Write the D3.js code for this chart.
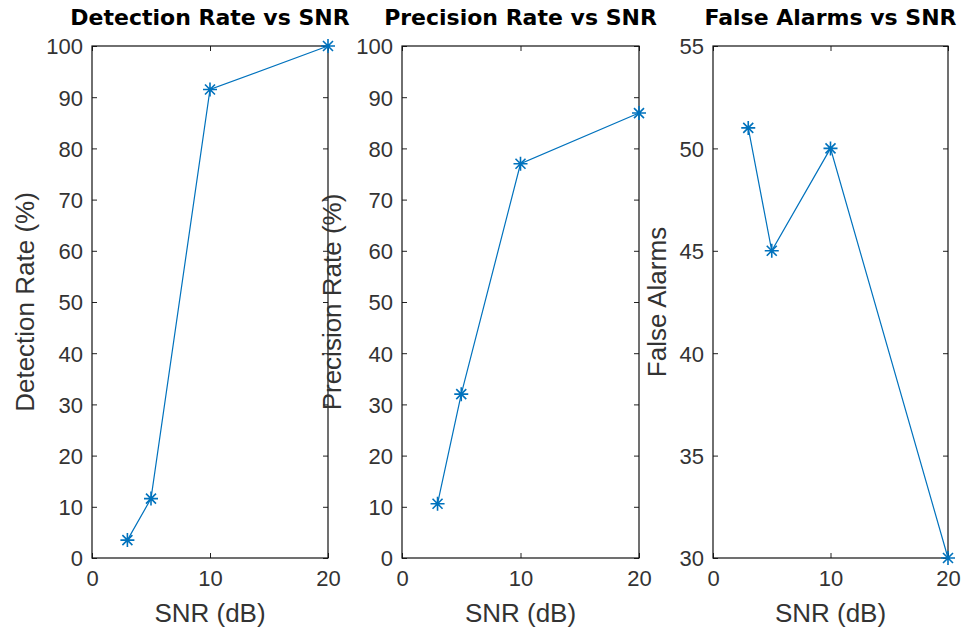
<!DOCTYPE html>
<html>
<head>
<meta charset="utf-8">
<script src="https://cdn.jsdelivr.net/npm/d3@7"></script>
<style>
  html, body { margin: 0; padding: 0; background: #fff; }
  svg { display: block; }
  .tick text { font-family: Arial, "Liberation Sans", sans-serif; font-size: 22px; fill: #333; }
  .tick line { stroke: #222; }
  .domain { stroke: none; }
</style>
</head>
<body>
<svg id="chart" width="964" height="634"></svg>
<script>
// SNR levels (dB) shared by all three panels
const snr = [3, 5, 10, 20];

// Measured series
const detectionRate = [3.5, 11.6, 91.5, 100];
const precisionRate = [10.6, 32, 77, 86.9];
const falseAlarms = [51, 45, 50, 30];

// Axis ticks
const xTicks = [0, 10, 20];
const pctTicks = [0, 10, 20, 30, 40, 50, 60, 70, 80, 90, 100];
const faTicks = [30, 35, 40, 45, 50, 55];

const titles = ["Detection Rate vs SNR", "Precision Rate vs SNR", "False Alarms vs SNR"];
const yLabels = ["Detection Rate (%)", "Precision Rate (%)", "False Alarms"];

const panels = [
  { left: 92, right: 328, values: detectionRate, yDomain: [0, 100], yTicks: pctTicks, title: titles[0], yLabel: yLabels[0], labelX: 34 },
  { left: 402, right: 639, values: precisionRate, yDomain: [0, 100], yTicks: pctTicks, title: titles[1], yLabel: yLabels[1], labelX: 341 },
  { left: 713, right: 948, values: falseAlarms, yDomain: [30, 55], yTicks: faTicks, title: titles[2], yLabel: yLabels[2], labelX: 666 }
];
const plotTop = 46, plotBottom = 558;
const lineColor = "#0072BD";

const svg = d3.select("#chart");

panels.forEach(p => {
  const x = d3.scaleLinear().domain([0, 20]).range([p.left, p.right]);
  const y = d3.scaleLinear().domain(p.yDomain).range([plotBottom, plotTop]);
  const g = svg.append("g");

  // axes with inward ticks, mirrored on the opposite sides
  g.append("g").attr("transform", `translate(0,${plotBottom})`)
    .call(d3.axisBottom(x).tickValues(xTicks).tickSize(-5).tickSizeOuter(0).tickPadding(8).tickFormat(d3.format("d")))
    .call(a => a.selectAll(".tick text").attr("dy", "0.9em"));
  g.append("g").attr("transform", `translate(0,${plotTop})`)
    .call(d3.axisTop(x).tickValues(xTicks).tickSize(-5).tickSizeOuter(0).tickFormat(""));
  g.append("g").attr("transform", `translate(${p.left},0)`)
    .call(d3.axisLeft(y).tickValues(p.yTicks).tickSize(-5).tickSizeOuter(0).tickPadding(9).tickFormat(d3.format("d")))
    .call(a => a.selectAll(".tick text").attr("dy", "0.36em"));
  g.append("g").attr("transform", `translate(${p.right},0)`)
    .call(d3.axisRight(y).tickValues(p.yTicks).tickSize(-5).tickSizeOuter(0).tickFormat(""));

  // axes box
  g.append("rect")
    .attr("x", p.left).attr("y", plotTop)
    .attr("width", p.right - p.left).attr("height", plotBottom - plotTop)
    .attr("fill", "none").attr("stroke", "#111").attr("stroke-width", 1.2);

  // data line
  const pts = snr.map((s, i) => [s, p.values[i]]);
  g.append("path")
    .datum(pts)
    .attr("fill", "none")
    .attr("stroke", lineColor)
    .attr("stroke-width", 1.2)
    .attr("d", d3.line().x(d => x(d[0])).y(d => y(d[1])));

  // asterisk markers
  const r = 7, rd = 5;
  const star = `M${-r},0H${r}M0,${-r}V${r}M${-rd},${-rd}L${rd},${rd}M${-rd},${rd}L${rd},${-rd}`;
  g.selectAll(".mk").data(pts).join("path")
    .attr("class", "mk")
    .attr("transform", d => `translate(${x(d[0])},${y(d[1])})`)
    .attr("d", star)
    .attr("fill", "none")
    .attr("stroke", lineColor)
    .attr("stroke-width", 1.6);

  // title
  g.append("text")
    .attr("x", (p.left + p.right) / 2).attr("y", 25)
    .attr("text-anchor", "middle")
    .attr("font-family", "'DejaVu Sans', Verdana, sans-serif")
    .attr("font-weight", "bold").attr("font-size", 22)
    .attr("fill", "#000")
    .text(p.title);

  // x label
  g.append("text")
    .attr("x", (p.left + p.right) / 2).attr("y", 622)
    .attr("text-anchor", "middle")
    .attr("font-family", "Arial, 'Liberation Sans', sans-serif")
    .attr("font-size", 26).attr("fill", "#333")
    .text("SNR (dB)");

  // y label
  g.append("text")
    .attr("transform", `translate(${p.labelX},${(plotTop + plotBottom) / 2}) rotate(-90)`)
    .attr("text-anchor", "middle")
    .attr("font-family", "Arial, 'Liberation Sans', sans-serif")
    .attr("font-size", 26).attr("fill", "#333")
    .text(p.yLabel);
});
</script>
</body>
</html>
